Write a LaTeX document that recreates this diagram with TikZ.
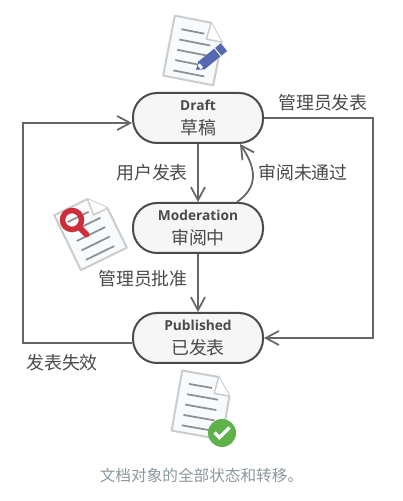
\documentclass[tikz,border=0pt]{standalone}
\usepackage{fontspec}
\setmainfont{Open Sans}
\newfontfamily\cjk{Noto Sans CJK SC}
\usetikzlibrary{arrows.meta,positioning,calc}
\definecolor{dline}{HTML}{4A4A4A}
\definecolor{darrow}{HTML}{666666}
\definecolor{pgrey}{HTML}{F6F6F6}
\definecolor{dsheet}{HTML}{CCCCCC}
\definecolor{psheet}{HTML}{F8FBFD}
\definecolor{drule}{HTML}{8C9093}
\definecolor{dred}{HTML}{CC2F3B}
\definecolor{dgreen}{HTML}{5FB14A}
\definecolor{dblue}{HTML}{5568B0}
\definecolor{dcap}{HTML}{8A979E}
\tikzset{
  state/.style={draw=dline,fill=pgrey,line width=0.04cm,rounded corners=0.48cm,minimum height=1cm,minimum width=2.6cm,
              align=center,text=dline,inner sep=0pt},
  arr/.style={-{Straight Barb[length=2.6mm,width=2.8mm,line width=0.035cm]},line width=0.035cm,darrow},
  lbl/.style={font=\fontsize{10.2}{12}\selectfont\cjk,text=dline,inner sep=0pt},
  pics/docsheet/.style={code={
    \draw[dsheet,fill=psheet,line width=0.04cm,line join=round] (-0.51,0.61) -- (0.23,0.61) -- (0.51,0.27) -- (0.51,-0.61) -- (-0.51,-0.61) -- cycle;
    \draw[dsheet,fill=white,line width=0.03cm,line join=round] (0.23,0.61) -- (0.2,0.27) -- (0.51,0.27);
    \foreach \y/\e in {0.37/0.14,0.16/0.3,-0.05/0.3,-0.26/0.3,-0.47/0.3}
      \draw[drule,line width=0.035cm] (-0.33,\y) -- (\e,\y);
  }},
}
\newcommand{\statetext}[2]{{\fontsize{7.8}{9}\selectfont\bfseries #1}\\[0.07cm]{\fontsize{10.2}{12}\selectfont\cjk #2}}
\begin{document}
\begin{tikzpicture}
\useasboundingbox (0,0) rectangle (8.04,10.02);
% document pictures
\pic[rotate=-11] at (3.88,9.01) {docsheet};
\begin{scope}[shift={(4.2,8.85)},rotate=39]
  \fill[dblue] (-0.22,-0.1) -- (0.36,-0.1) -- (0.36,0.1) -- (-0.22,0.1) -- (-0.36,0) -- cycle;
  \draw[white,line width=0.02cm] (0.2,-0.1) -- (0.2,0.1);
  \fill[white] (-0.28,-0.05) -- (-0.22,-0.05) -- (-0.22,0.05) -- (-0.28,0.05) -- cycle;
\end{scope}
\pic[rotate=26] at (1.81,5.39) {docsheet};
\draw[dred,line width=0.11cm] (1.44,5.62) circle (0.19);
\draw[dred,line width=0.12cm,line cap=round] (1.58,5.48) -- (1.73,5.33);
\pic[rotate=-10] at (4.04,1.92) {docsheet};
\fill[dgreen] (4.44,1.36) circle (0.28);
\draw[white,line width=0.07cm] (4.29,1.37) -- (4.39,1.27) -- (4.59,1.47);
% states
\node[state] (draft) at (3.96,7.66) {\statetext{Draft}{草稿}};
\node[state] (moderation) at (3.96,5.46) {\statetext{Moderation}{审阅中}};
\node[state] (published) at (3.96,3.26) {\statetext{Published}{已发表}};
% flows
\coordinate (outright) at (7.46,7.66);
\coordinate (backleft) at (0.46,7.56);
\draw[arr] (draft) -- (moderation);
\draw[arr] (moderation) -- (published);
\draw[arr] ([xshift=0.78cm]moderation.north) .. controls (5.15,6.27) and (5.15,6.62) .. ([xshift=0.84cm]draft.south);
\draw[arr] (draft.east) -- (outright) |- (published.east);
\draw[arr] ([yshift=-0.1cm]published.west) -| (backleft) -- ([yshift=-0.1cm]draft.west);
% labels
\node[lbl] (lblsubmit) at (3.04,6.56) {用户发表};
\node[lbl] (lblreject) at (6.06,6.56) {审阅未通过};
\node[lbl] (lblapprove) at (2.86,4.44) {管理员批准};
\node[lbl] (lblpublish) at (6.46,7.96) {管理员发表};
\node[lbl] (lblexpire) at (1.24,2.76) {发表失效};
\node[font=\fontsize{8.9}{10}\selectfont\cjk,text=dcap,inner sep=0pt] (caption) at (4.03,0.5) {文档对象的全部状态和转移。};
\end{tikzpicture}
\end{document}
